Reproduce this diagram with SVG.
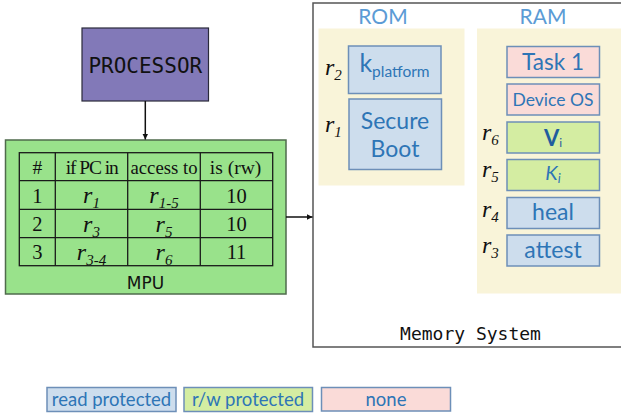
<svg xmlns="http://www.w3.org/2000/svg" width="621" height="415" viewBox="0 0 621 415">
<defs>
<style>
.serif{font-family:"Liberation Serif","Times New Roman",serif;fill:#111;}
.hdr{font-size:19.5px;text-anchor:middle;}
.num{font-size:20.5px;}
.rv{font-family:"Liberation Serif","Times New Roman",serif;font-style:italic;font-size:24px;fill:#111;}
.sub{font-size:15px;}
.tbl{stroke:#1a1a1a;stroke-width:1.3;fill:none;}
.lbl{font-family:Lato,"Open Sans",sans-serif;fill:#2e75b6;text-anchor:middle;}
.blue{fill:#cddded;stroke:#6d8fb8;stroke-width:1.5;}
.green{fill:#d4eda2;stroke:#6d8fb8;stroke-width:1.5;}
.pink{fill:#fadbd8;stroke:#6d8fb8;stroke-width:1.5;}
.panel{fill:#f9f4d9;stroke:none;}
.mono{font-family:"DejaVu Sans Mono","Liberation Mono",monospace;fill:#111;text-anchor:middle;}
.conn{stroke:#111;stroke-width:1.5;fill:none;}
</style>
<marker id="arr" viewBox="0 0 10 10" refX="10" refY="5" markerWidth="6" markerHeight="6" orient="auto" markerUnits="userSpaceOnUse">
<path d="M0,0 L10,5 L0,10 z" fill="#111"/>
</marker>
</defs>

<g id="memory-system">
<rect x="313" y="3" width="330" height="344" fill="#fff" stroke="#555" stroke-width="1.5"/>
<text class="mono" x="470.5" y="340" font-size="18">Memory System</text>
</g>

<g id="rom">
<rect class="panel" x="318.5" y="28.5" width="146" height="157"/>
<text class="lbl" x="383" y="24" font-size="21" style="fill:#5b9bd5">ROM</text>
</g>
<g id="ram">
<rect class="panel" x="477" y="28.5" width="160" height="265"/>
<text class="lbl" x="543" y="24" font-size="21" style="fill:#5b9bd5">RAM</text>
</g>

<g id="kplatform">
<rect class="blue" x="348.5" y="46" width="92.5" height="47.5"/>
<text class="lbl" x="394.5" y="72" font-size="25">k<tspan font-size="15.5" dy="5">platform</tspan></text>
<text class="rv" x="325" y="75">r<tspan class="sub" dy="5">2</tspan></text>
</g>
<g id="secure-boot">
<rect class="blue" x="349" y="99" width="92.5" height="70.5"/>
<text class="lbl" x="395" y="128.5" font-size="23">Secure</text>
<text class="lbl" x="395" y="157" font-size="23">Boot</text>
<text class="rv" x="325" y="131.5">r<tspan class="sub" dy="5">1</tspan></text>
</g>

<g id="task1">
<rect class="pink" x="507" y="46.5" width="92.5" height="31"/>
<text class="lbl" x="553" y="70" font-size="22.5">Task 1</text>
</g>
<g id="device-os">
<rect class="pink" x="507" y="84" width="92.5" height="31"/>
<text class="lbl" x="553" y="106" font-size="17.5">Device OS</text>
</g>
<g id="vi">
<rect class="green" x="507" y="122" width="92.5" height="31"/>
<text class="lbl" x="553" y="145.5" font-size="22" font-weight="bold" style="fill:#1f5d9e">V<tspan font-size="12" font-weight="normal" dy="1">i</tspan></text>
<text class="rv" x="482" y="140">r<tspan class="sub" dy="5">6</tspan></text>
</g>
<g id="ki">
<rect class="green" x="507" y="159.5" width="92.5" height="31"/>
<text class="lbl" x="553" y="180" font-size="20" font-style="italic">K<tspan font-size="13" dy="3">i</tspan></text>
<text class="rv" x="482" y="177">r<tspan class="sub" dy="5">5</tspan></text>
</g>
<g id="heal">
<rect class="blue" x="507" y="197.5" width="92.5" height="31"/>
<text class="lbl" x="553" y="220" font-size="23">heal</text>
<text class="rv" x="482" y="216.5">r<tspan class="sub" dy="5">4</tspan></text>
</g>
<g id="attest">
<rect class="blue" x="507" y="235" width="92.5" height="31"/>
<text class="lbl" x="553" y="258" font-size="23">attest</text>
<text class="rv" x="482" y="253">r<tspan class="sub" dy="5">3</tspan></text>
</g>

<g id="processor">
<rect x="82" y="28" width="126.5" height="73" fill="#8279b8" stroke="#2a2a3a" stroke-width="1.2"/>
<text class="mono" x="145.3" y="73" font-size="21">PROCESSOR</text>
</g>

<g id="mpu">
<rect x="5.5" y="140" width="280.5" height="154" fill="#99e28b" stroke="#4f6b4c" stroke-width="1.5"/>
<rect class="tbl" x="19.3" y="152.7" width="253.4" height="113"/>
<line class="tbl" x1="19.3" y1="180.7" x2="272.7" y2="180.7"/>
<line class="tbl" x1="19.3" y1="209.3" x2="272.7" y2="209.3"/>
<line class="tbl" x1="19.3" y1="237.7" x2="272.7" y2="237.7"/>
<line class="tbl" x1="55.3" y1="152.7" x2="55.3" y2="265.7"/>
<line class="tbl" x1="127.7" y1="152.7" x2="127.7" y2="265.7"/>
<line class="tbl" x1="200.3" y1="152.7" x2="200.3" y2="265.7"/>
<g class="serif hdr">
<text x="37.3" y="174">#</text>
<text x="92.3" y="174" textLength="53" lengthAdjust="spacing">if PC in</text>
<text x="164" y="174" textLength="67" lengthAdjust="spacingAndGlyphs">access to</text>
<text x="235.5" y="174">is (rw)</text>
<text class="num" x="37.3" y="202.5">1</text>
<text class="num" x="236.5" y="202.5">10</text>
<text class="num" x="37.3" y="231">2</text>
<text class="num" x="236.5" y="231">10</text>
<text class="num" x="37.3" y="259">3</text>
<text class="num" x="236.5" y="259">11</text>
</g>
<text class="rv" x="91.5" y="203" text-anchor="middle">r<tspan class="sub" dy="5">1</tspan></text>
<text class="rv" x="164" y="203" text-anchor="middle">r<tspan class="sub" dy="5">1-5</tspan></text>
<text class="rv" x="91.5" y="231.5" text-anchor="middle">r<tspan class="sub" dy="5">3</tspan></text>
<text class="rv" x="164" y="231.5" text-anchor="middle">r<tspan class="sub" dy="5">5</tspan></text>
<text class="rv" x="91.5" y="259.5" text-anchor="middle">r<tspan class="sub" dy="5">3-4</tspan></text>
<text class="rv" x="164" y="259.5" text-anchor="middle">r<tspan class="sub" dy="5">6</tspan></text>
<text x="145.5" y="289" font-family="DejaVu Sans, Verdana, sans-serif" font-size="17" fill="#111" text-anchor="middle">MPU</text>
</g>

<g id="connectors">
<line class="conn" x1="145.3" y1="101" x2="145.3" y2="139.5" marker-end="url(#arr)"/>
<line class="conn" x1="286" y1="217" x2="312.5" y2="217" marker-end="url(#arr)"/>
</g>

<g id="legend-read">
<rect class="blue" x="47" y="387.5" width="129" height="24"/>
<text class="lbl" x="111.5" y="406" font-size="18.5">read protected</text>
</g>
<g id="legend-rw">
<rect class="green" x="184" y="387.5" width="128.5" height="24"/>
<text class="lbl" x="248" y="406" font-size="18.5">r/w protected</text>
</g>
<g id="legend-none">
<rect class="pink" x="321.5" y="387.5" width="129" height="23.5"/>
<text class="lbl" x="386" y="406" font-size="18.5">none</text>
</g>
</svg>
